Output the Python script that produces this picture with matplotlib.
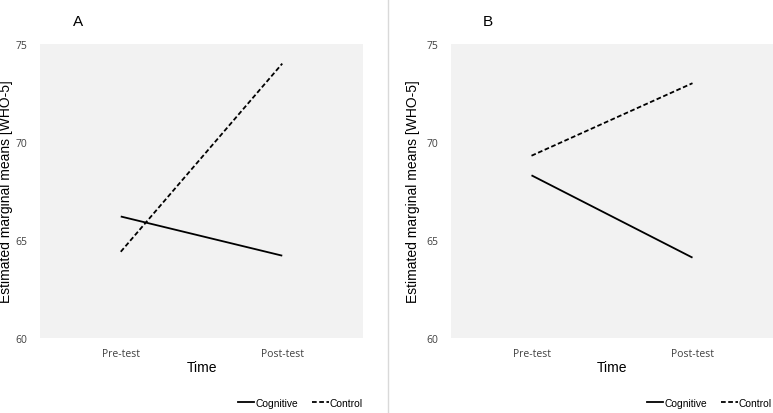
from matplotlib import pyplot as plt
from matplotlib.lines import Line2D

# data
times = ['Pre-test', 'Post-test']
groups = ['Cognitive', 'Control']
panel_a_cognitive = [66.2, 64.2]
panel_a_control = [64.4, 74.0]
panel_b_cognitive = [68.3, 64.1]
panel_b_control = [69.3, 73.0]
y_ticks = [60, 65, 70, 75]

W, H = 773, 414
TICK_FONT = 'Open Sans'
LABEL_FONT = 'Liberation Sans'
TICK_COLOR = '#404040'

fig = plt.figure(figsize=(W / 100, H / 100), dpi=100)

# panel boxes in pixels: name, left, plot width, ylabel x, data, title x, legend right
panels = [
    ('A', 40, 323, 6, panel_a_cognitive, panel_a_control, 78, 363),
    ('B', 451, 322, 413, panel_b_cognitive, panel_b_control, 488, 772),
]
top, bottom = 45, 339

for name, left, width, ylab_x, cog, ctl, title_x, leg_right in panels:
    ax = fig.add_axes([left / W, (H - bottom) / H, width / W, (bottom - top) / H])
    ax.set_facecolor('#f2f2f2')
    x = list(range(len(times)))
    ax.plot(x, cog, color='black', lw=1.3, solid_capstyle='butt')
    ax.plot(x, ctl, color='black', lw=1.3, linestyle=(0, (2.6, 1.4)))
    ax.set_xlim(-0.5, 1.5)
    ax.set_ylim(60, 75)
    ax.set_yticks(y_ticks)
    ax.set_xticks(x)
    ax.set_xticklabels(times)
    for s in ax.spines.values():
        s.set_visible(False)
    ax.tick_params(length=0, labelsize=7.5, labelcolor=TICK_COLOR)
    ax.tick_params(axis='y', pad=9)
    ax.tick_params(axis='x', pad=7)
    for lab in ax.get_xticklabels() + ax.get_yticklabels():
        lab.set_fontfamily(TICK_FONT)
    ax.set_xlabel('Time', fontsize=10, family=LABEL_FONT)
    ax.xaxis.set_label_coords(0.5, -29 / (bottom - top), transform=ax.transAxes)
    ax.xaxis.label.set_va('center')
    ax.set_ylabel('Estimated marginal means [WHO-5]', fontsize=10, family=LABEL_FONT)
    ax.yaxis.set_label_coords((ylab_x - left) / width, 0.5)
    ax.yaxis.label.set_va('center')

    fig.text(title_x / W, 1 - 22 / H, name, fontsize=11, family=LABEL_FONT,
             ha='center', va='center')

    handles = [Line2D([], [], color='black', lw=1.3),
               Line2D([], [], color='black', lw=1.3, linestyle=(0, (2.6, 1.4)))]
    leg = ax.legend(handles, groups, loc='center right', ncol=2, frameon=False,
                    bbox_to_anchor=(leg_right / W, 1 - 404 / H),
                    bbox_transform=fig.transFigure, fontsize=7.4,
                    handlelength=1.6, handletextpad=0.1, columnspacing=1.4,
                    borderpad=0, borderaxespad=0)
    for t in leg.get_texts():
        t.set_fontfamily(LABEL_FONT)

# light divider between the panels
fig.add_artist(Line2D([388 / W, 388 / W], [0, 1], color='#d9d9d9', lw=1,
                      transform=fig.transFigure))

fig.savefig('out.png', dpi=100, facecolor='white')
